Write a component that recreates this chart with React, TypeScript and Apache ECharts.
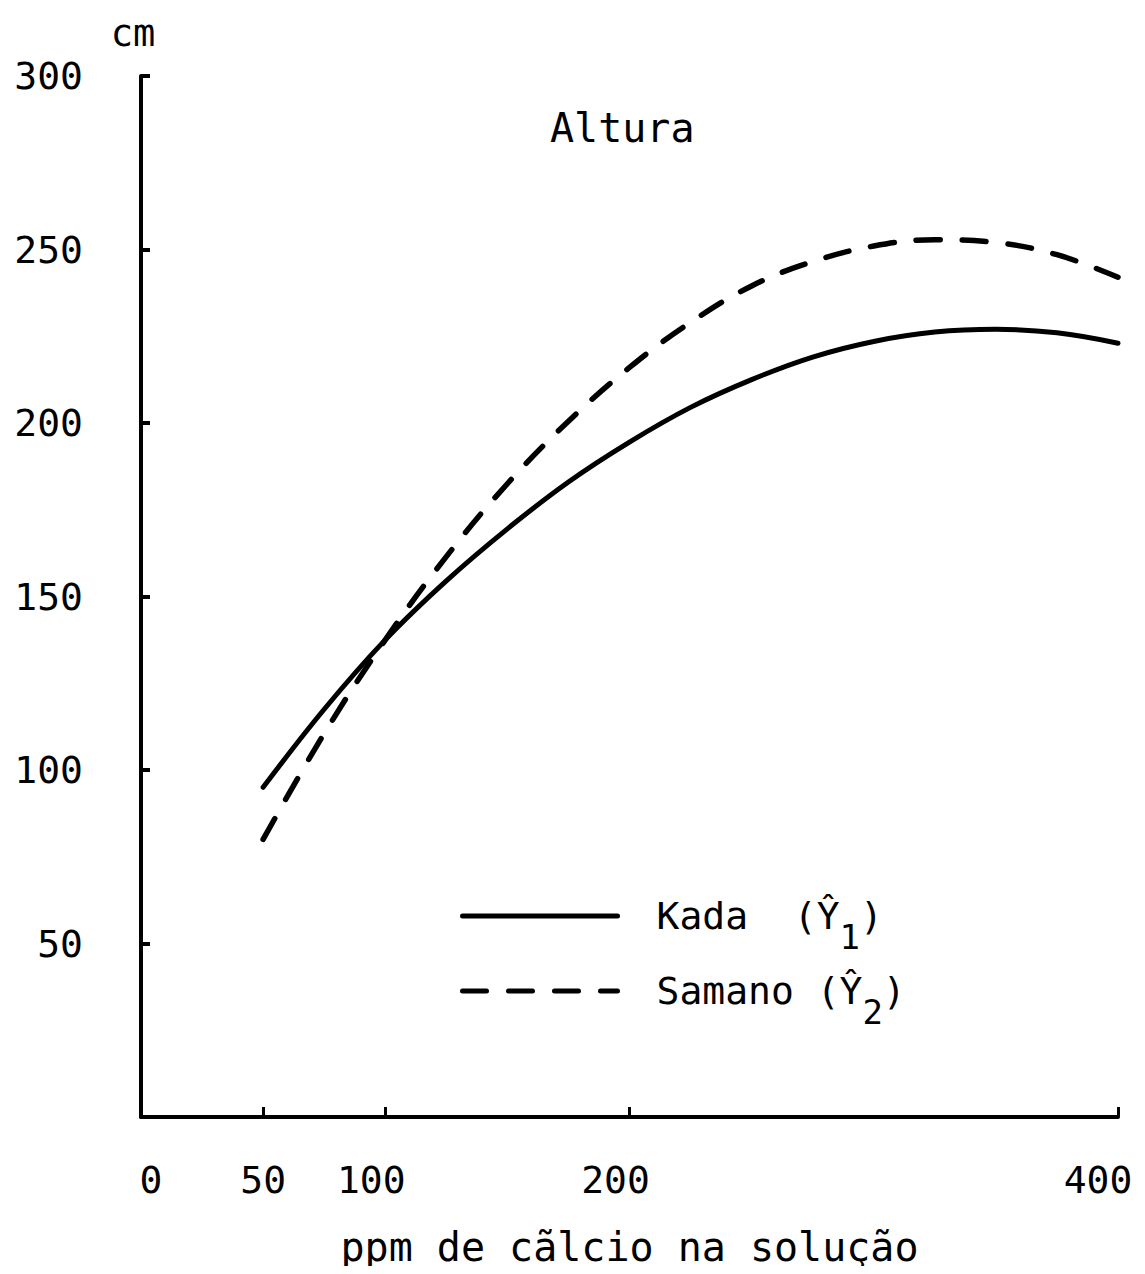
import React, { useEffect, useRef } from "react";
import * as echarts from "echarts";

// Calcium concentration in the nutrient solution (ppm)
const ppm = [50, 75, 100, 125, 150, 175, 200, 225, 250, 275, 300, 325, 350, 375, 400];
// Fitted plant height (cm) for each cultivar
const kada = [95, 117.5, 137.5, 154.5, 169.5, 183, 194.5, 204.5, 212.5, 219, 223.5, 226.2, 227, 226, 223];
const samano = [80, 110.5, 137.5, 161.5, 182.5, 200.5, 216, 229, 239.5, 246.5, 251, 252.8, 252, 248.5, 242];

const xTicks = [50, 100, 200, 400];
const xLabels = [0, 50, 100, 200, 400];
const yLabels = [50, 100, 150, 200, 250, 300];

const FONT = '"DejaVu Sans Mono", "Liberation Mono", monospace';
const INK = "#000";

export default function App() {
  const ref = useRef<HTMLDivElement>(null);

  useEffect(() => {
    if (!ref.current) return;
    const chart = echarts.init(ref.current, undefined, { renderer: "svg" });

    const pair = (ys: number[]) => ppm.map((x, i) => [x, ys[i]]);

    chart.setOption({
      animation: false,
      backgroundColor: "#fff",
      title: {
        text: "Altura",
        left: 545,
        top: 103,
        textStyle: { fontFamily: FONT, fontSize: 40, fontWeight: "normal", color: INK },
      },
      legend: {
        orient: "vertical",
        left: 455,
        top: 892,
        itemWidth: 155,
        itemHeight: 14,
        itemGap: 18,
        selectedMode: false,
        lineStyle: { width: 5 },
        itemStyle: { color: "rgba(0,0,0,0)", borderWidth: 0, opacity: 0 },
        data: ["Kada", "Samano"],
        formatter: (name: string) =>
          name === "Kada"
            ? "{h|Kada  (Ŷ}{s|1}{t|)}"
            : "{h|Samano (Ŷ}{s|2}{t|)}",
        textStyle: {
          fontFamily: FONT,
          fontSize: 38,
          color: INK,
          rich: {
            h: { fontFamily: FONT, fontSize: 38, color: INK, padding: [0, 0, 0, 34] },
            t: { fontFamily: FONT, fontSize: 38, color: INK },
            s: { fontFamily: FONT, fontSize: 34, color: INK, padding: [42, 0, 0, 0] },
          },
        },
      },
      grid: { left: 141, right: 27, top: 76, bottom: 157 },
      xAxis: {
        type: "value",
        min: 0,
        max: 400,
        name: "ppm de cãlcio na solução",
        nameLocation: "middle",
        nameGap: 110,
        nameTextStyle: { fontFamily: FONT, fontSize: 40, color: INK },
        axisLine: { lineStyle: { color: INK, width: 4 } },
        axisTick: {
          show: true,
          inside: true,
          length: 10,
          customValues: xTicks,
          lineStyle: { color: INK, width: 3 },
        },
        axisLabel: {
          customValues: xLabels,
          margin: 44,
          fontFamily: FONT,
          fontSize: 38,
          color: INK,
          formatter: (v: number) =>
            v === 0 ? "{a|0}" : v === 400 ? "{c|400}" : v >= 100 ? "{b|" + v + "}" : "{n|" + v + "}",
          rich: {
            a: { fontFamily: FONT, fontSize: 38, color: INK, padding: [0, 0, 0, 20] },
            b: { fontFamily: FONT, fontSize: 38, color: INK, padding: [0, 28, 0, 0] },
            c: { fontFamily: FONT, fontSize: 38, color: INK, padding: [0, 40, 0, 0] },
            n: { fontFamily: FONT, fontSize: 38, color: INK },
          },
        },
        splitLine: { show: false },
      },
      yAxis: {
        type: "value",
        min: 0,
        max: 300,
        interval: 50,
        name: "cm",
        nameLocation: "end",
        nameGap: 24,
        nameTextStyle: { fontFamily: FONT, fontSize: 37, color: INK, padding: [0, 16, 0, 0] },
        axisLine: { show: true, lineStyle: { color: INK, width: 4 } },
        axisTick: { show: true, inside: true, length: 9, lineStyle: { color: INK, width: 4 } },
        axisLabel: {
          customValues: yLabels,
          margin: 58,
          fontFamily: FONT,
          fontSize: 38,
          color: INK,
        },
        splitLine: { show: false },
      },
      series: [
        {
          name: "Kada",
          type: "line",
          data: pair(kada),
          smooth: 0.4,
          symbol: "none",
          lineStyle: { color: INK, width: 5, cap: "round" },
          itemStyle: { color: INK },
        },
        {
          name: "Samano",
          type: "line",
          data: pair(samano),
          smooth: 0.4,
          symbol: "none",
          lineStyle: { color: INK, width: 5.5, type: [24, 22], cap: "round" },
          itemStyle: { color: INK },
        },
      ],
    });

    return () => chart.dispose();
  }, []);

  return <div ref={ref} style={{ width: 1145, height: 1274, margin: -8 }} />;
}
